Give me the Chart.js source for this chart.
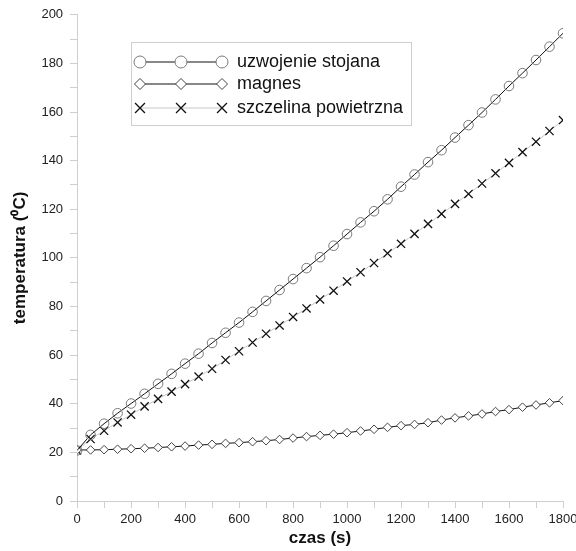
<!DOCTYPE html>
<html>
<head>
<meta charset="utf-8">
<script src="https://cdn.jsdelivr.net/npm/chart.js@4/dist/chart.umd.min.js"></script>
<style>
    body { margin: 0; background: #fff; }
    #box { width: 576px; height: 551px; }
</style>
</head>
<body>
<div id="box"><canvas id="wykres" width="576" height="551"></canvas></div>
<script>
// czas pomiaru (s)
const czas = [0, 50, 100, 150, 200, 250, 300, 350, 400, 450, 500, 550, 600, 650, 700, 750, 800, 850, 900,
    950, 1000, 1050, 1100, 1150, 1200, 1250, 1300, 1350, 1400, 1450, 1500, 1550, 1600, 1650, 1700, 1750, 1800];

// temperatury (oC)
const uzwojenie = [20.8, 27.2, 31.8, 36.1, 40.1, 44.1, 48.2, 52.3, 56.5, 60.6, 65.0, 69.2, 73.4, 77.8, 82.3,
    86.8, 91.3, 95.8, 100.3, 105.0, 109.8, 114.6, 119.2, 124.1, 129.3, 134.3, 139.4, 144.3, 149.5, 154.6,
    159.8, 165.2, 170.7, 176.0, 181.4, 186.9, 192.4];
const magnes = [21.0, 21.0, 21.1, 21.3, 21.5, 21.7, 22.0, 22.3, 22.6, 23.0, 23.3, 23.7, 24.0, 24.4, 24.8,
    25.3, 25.9, 26.5, 27.0, 27.5, 28.1, 28.8, 29.5, 30.3, 31.0, 31.5, 32.2, 33.3, 34.2, 35.0,
    35.8, 36.8, 37.6, 38.6, 39.5, 40.4, 41.3];
const szczelina = [20.8, 25.5, 28.9, 32.3, 35.5, 38.9, 42.0, 45.0, 48.1, 51.2, 54.4, 58.0, 61.6, 65.2, 68.8,
    72.2, 75.7, 79.2, 82.9, 86.5, 90.3, 94.1, 97.9, 101.9, 105.8, 109.9, 114.0, 118.1, 122.2, 126.3,
    130.6, 134.8, 139.1, 143.5, 147.8, 152.2, 156.7];

const etykiety = ['uzwojenie stojana', 'magnes', 'szczelina powietrzna'];

function punkty(wartosci) {
    return czas.map(function (t, i) { return { x: t, y: wartosci[i] }; });
}

Chart.defaults.font.family = "'Liberation Sans', Arial, sans-serif";
Chart.defaults.color = '#222';

// legenda rysowana recznie: linia z trzema znacznikami
const legendaPlugin = {
    id: 'legenda',
    afterDraw(chart) {
        const ctx = chart.ctx;
        ctx.save();
        ctx.strokeStyle = '#cfcfcf';
        ctx.lineWidth = 1;
        ctx.strokeRect(131.5, 42.5, 280, 83);

        const wiersze = [62, 84, 108];
        chart.data.datasets.forEach(function (ds, i) {
            const y = wiersze[i];
            ctx.strokeStyle = ds.borderColor;
            ctx.lineWidth = 1;
            ctx.beginPath();
            ctx.moveTo(140, y);
            ctx.lineTo(222, y);
            ctx.stroke();
            [140, 181, 222].forEach(function (x) {
                ctx.fillStyle = '#fff';
                ctx.strokeStyle = ds.pointBorderColor;
                ctx.lineWidth = ds.pointBorderWidth;
                Chart.helpers.drawPoint(ctx, {
                    pointStyle: ds.pointStyle,
                    radius: ds.pointRadius + 1.2,
                    rotation: 0,
                    borderWidth: ds.pointBorderWidth
                }, x, y);
            });
            ctx.fillStyle = '#111';
            ctx.font = "18px 'Liberation Sans', Arial, sans-serif";
            ctx.textBaseline = 'middle';
            ctx.fillText(ds.label, 237, y);
        });
        ctx.restore();
    }
};

new Chart(document.getElementById('wykres'), {
    type: 'line',
    data: {
        datasets: [
            {
                label: etykiety[0],
                data: punkty(uzwojenie),
                borderColor: '#111',
                borderWidth: 1,
                pointStyle: 'circle',
                pointRadius: 4.8,
                pointBorderColor: '#7a7a7a',
                pointBorderWidth: 1,
                pointBackgroundColor: 'rgba(255,255,255,0)'
            },
            {
                label: etykiety[1],
                data: punkty(magnes),
                borderColor: '#111',
                borderWidth: 1,
                pointStyle: 'rectRot',
                pointRadius: 4.3,
                pointBorderColor: '#444',
                pointBorderWidth: 1,
                pointBackgroundColor: '#fff'
            },
            {
                label: etykiety[2],
                data: punkty(szczelina),
                borderColor: '#c8c8c8',
                borderWidth: 1,
                pointStyle: 'crossRot',
                pointRadius: 5.8,
                pointBorderColor: '#111',
                pointBorderWidth: 1.3,
                pointBackgroundColor: '#111'
            }
        ]
    },
    options: {
        responsive: false,
        animation: false,
        layout: { padding: { top: 12, right: 0, left: 10, bottom: 2 } },
        plugins: {
            legend: { display: false },
            tooltip: { enabled: false }
        },
        scales: {
            x: {
                type: 'linear',
                min: 0,
                max: 1800,
                // etykieta 1800 moze wyjsc prawie do krawedzi
                afterFit: function (scale) { scale.paddingRight = 13; },
                border: { color: '#cfcfcf' },
                grid: { drawOnChartArea: false, color: '#cfcfcf', tickLength: 7 },
                ticks: {
                    stepSize: 100,
                    autoSkip: false,
                    maxRotation: 0,
                    padding: 4,
                    font: { size: 13 },
                    callback: function (v) { return v % 200 === 0 ? v : ''; }
                },
                title: {
                    display: true,
                    text: 'czas (s)',
                    font: { size: 17, weight: 'bold' },
                    color: '#111',
                    padding: { top: -3, bottom: 0 }
                }
            },
            y: {
                min: 0,
                max: 200,
                border: { color: '#cfcfcf' },
                grid: { drawOnChartArea: false, color: '#cfcfcf', tickLength: 7 },
                ticks: {
                    stepSize: 10,
                    autoSkip: false,
                    padding: 7,
                    font: { size: 13 },
                    callback: function (v) { return v % 20 === 0 ? v : ''; }
                },
                title: {
                    display: true,
                    text: 'temperatura (⁰C)',
                    font: { size: 17, weight: 'bold' },
                    color: '#111',
                    padding: { top: 0, bottom: 4 }
                }
            }
        }
    },
    plugins: [legendaPlugin]
});
</script>
</body>
</html>
